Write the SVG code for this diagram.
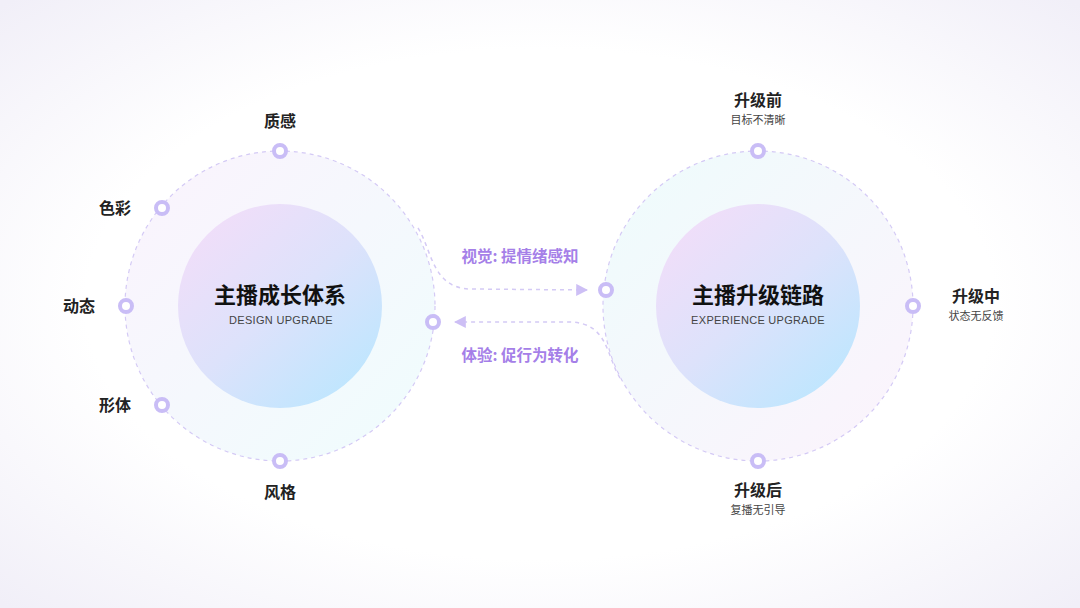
<svg xmlns="http://www.w3.org/2000/svg" width="1080" height="608" viewBox="0 0 1080 608">
<defs>
<radialGradient id="bg" cx="50%" cy="50%" r="70%"><stop offset="0.6" stop-color="#ffffff"/><stop offset="1" stop-color="#f1eff8"/></radialGradient>
<linearGradient id="outerL" x1="0" y1="0" x2="1" y2="1"><stop offset="0" stop-color="#fbf3fd"/><stop offset="1" stop-color="#effdfd"/></linearGradient>
<linearGradient id="outerR" x1="0" y1="0" x2="1" y2="1"><stop offset="0" stop-color="#eefcfc"/><stop offset="1" stop-color="#fcf3fc"/></linearGradient>
<linearGradient id="inner" x1="0.15" y1="0.1" x2="0.85" y2="0.9"><stop offset="0" stop-color="#f0def9"/><stop offset="0.5" stop-color="#dde2fb"/><stop offset="1" stop-color="#bfe6fe"/></linearGradient>
<marker id="arr" viewBox="0 0 10 10" refX="9" refY="5" markerWidth="8" markerHeight="8" orient="auto-start-reverse"><path d="M0,0 L10,5 L0,10 z" fill="#cdbff5"/></marker>
</defs>
<style>
.ring{stroke:#d4caf5;stroke-width:1.2;stroke-dasharray:4 4}
.dot{fill:#fff;stroke:#c9bdf6;stroke-width:4}
.lbl{font-family:"Noto Sans CJK SC",sans-serif;font-size:16px;font-weight:700;fill:#222;text-anchor:middle}
.sub{font-family:"Noto Sans CJK SC",sans-serif;font-size:11px;fill:#444;text-anchor:middle}
.title{font-family:"Noto Sans CJK SC",sans-serif;font-size:22px;font-weight:700;fill:#111;text-anchor:middle}
.en{font-family:"Liberation Sans",sans-serif;font-size:11px;fill:#444;text-anchor:middle;letter-spacing:0.3px}
.purple{font-family:"Noto Sans CJK SC",sans-serif;font-size:15.5px;font-weight:700;fill:#a57fe8;text-anchor:middle}
.conn{fill:none;stroke:#d4caf5;stroke-width:1.5;stroke-dasharray:4 4}
</style>
<rect width="1080" height="608" fill="url(#bg)"/>
<g id="left-system">
<circle cx="280" cy="306" r="155" fill="url(#outerL)" class="ring"/>
<circle cx="280" cy="306" r="102" fill="url(#inner)"/>
<text x="280" y="303" class="title">主播成长体系</text>
<text x="281" y="324" class="en">DESIGN  UPGRADE</text>
</g>
<g id="right-system">
<circle cx="758" cy="306" r="155" fill="url(#outerR)" class="ring"/>
<circle cx="758" cy="306" r="102" fill="url(#inner)"/>
<text x="758" y="303" class="title">主播升级链路</text>
<text x="758" y="324" class="en">EXPERIENCE  UPGRADE</text>
</g>
<g id="connectors">
<path class="conn" d="M418,228 C432,250 432,288 470,289 L587,290" marker-end="url(#arr)"/>
<path class="conn" d="M620,378 C606,355 608,323 570,322 L455,322" marker-end="url(#arr)"/>
<text x="520" y="262" class="purple">视觉: 提情绪感知</text>
<text x="520" y="361" class="purple">体验: 促行为转化</text>
</g>
<g id="n-zhigan"><circle cx="280" cy="151" r="6" class="dot"/><text x="280" y="127" class="lbl">质感</text></g>
<g id="n-secai"><circle cx="162" cy="208" r="6" class="dot"/><text x="115" y="214" class="lbl">色彩</text></g>
<g id="n-dongtai"><circle cx="126" cy="306" r="6" class="dot"/><text x="79" y="312" class="lbl">动态</text></g>
<g id="n-xingti"><circle cx="162" cy="405" r="6" class="dot"/><text x="115" y="411" class="lbl">形体</text></g>
<g id="n-fengge"><circle cx="280" cy="461" r="6" class="dot"/><text x="280" y="498" class="lbl">风格</text></g>
<g id="n-left-port"><circle cx="433" cy="322" r="6" class="dot"/></g>
<g id="n-right-port"><circle cx="606" cy="290" r="6" class="dot"/></g>
<g id="n-before"><circle cx="758" cy="151" r="6" class="dot"/><text x="758" y="106" class="lbl">升级前</text><text x="758" y="124" class="sub">目标不清晰</text></g>
<g id="n-during"><circle cx="913" cy="306" r="6" class="dot"/><text x="976" y="302" class="lbl">升级中</text><text x="976" y="320" class="sub">状态无反馈</text></g>
<g id="n-after"><circle cx="758" cy="461" r="6" class="dot"/><text x="758" y="496" class="lbl">升级后</text><text x="758" y="514" class="sub">复播无引导</text></g>
</svg>
